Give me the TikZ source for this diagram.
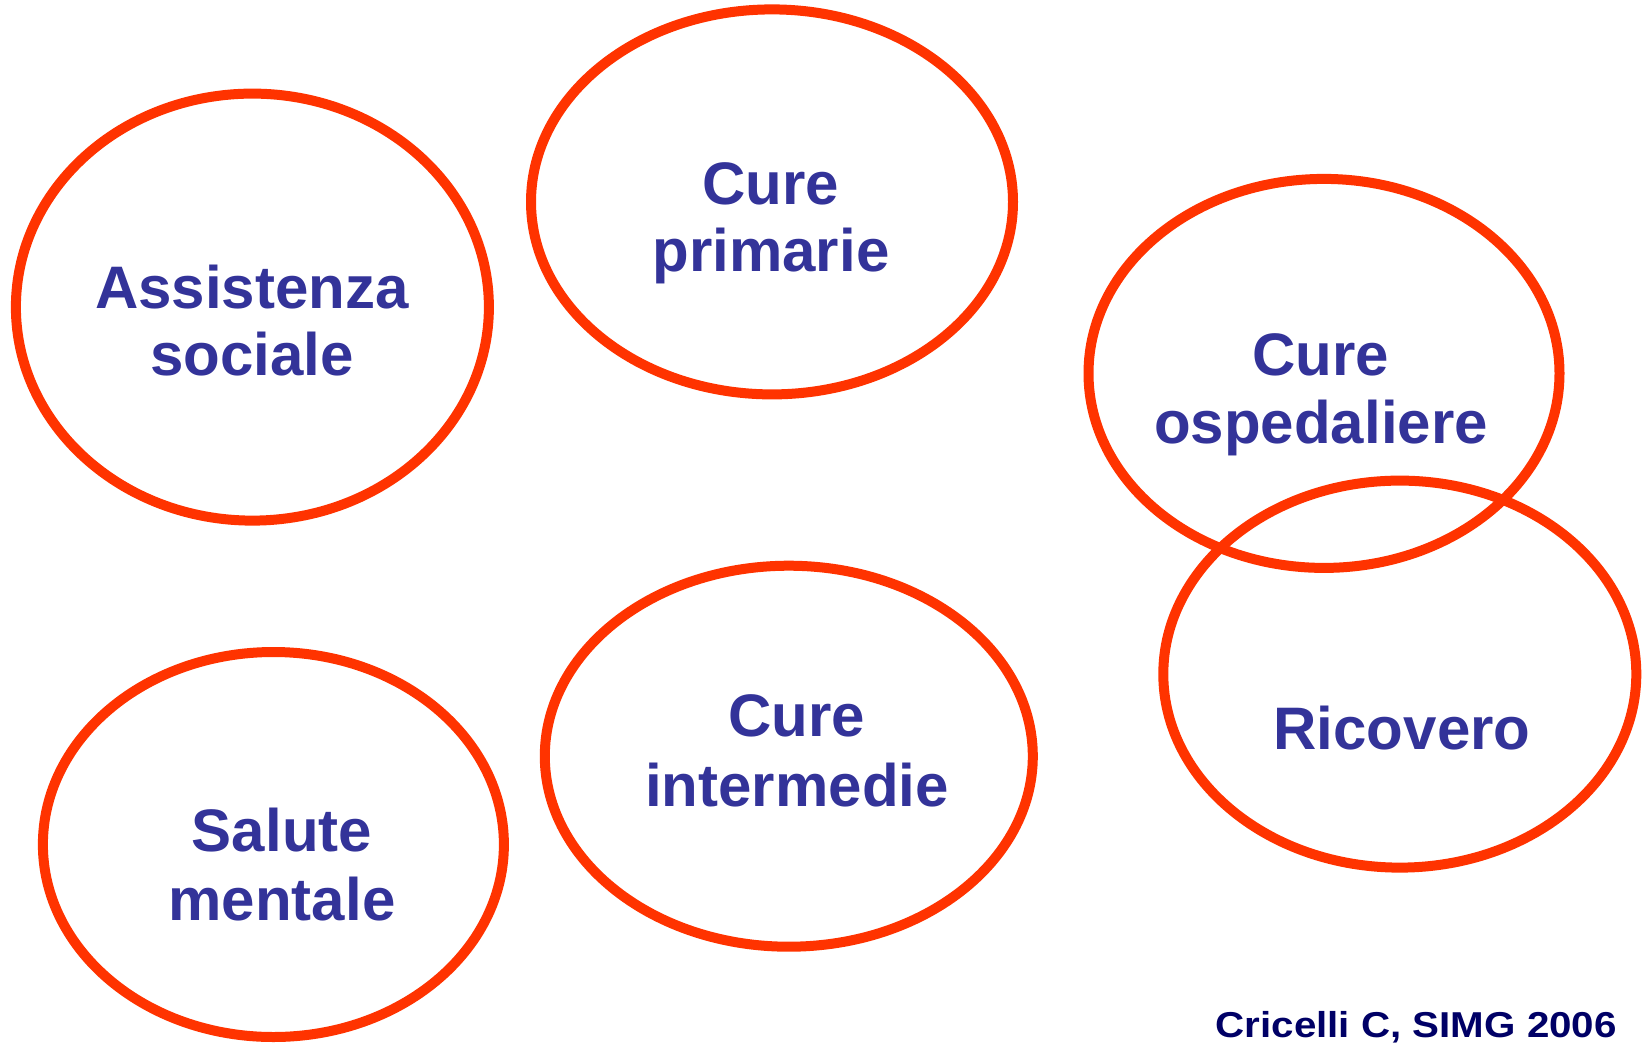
\documentclass[tikz,border=0pt]{standalone}
\usepackage{fontspec}
\setmainfont{Liberation Sans}
\usetikzlibrary{shapes.geometric}
\definecolor{ring}{HTML}{FF3300}
\definecolor{lbl}{HTML}{333399}
\definecolor{cite}{HTML}{000066}
\tikzset{
  oval/.style={draw=ring, line width=10pt, ellipse, inner sep=0pt, outer sep=0pt},
  word/.style={anchor=base, text=lbl, inner sep=0pt, font=\bfseries\fontsize{60}{68}\selectfont},
}
\begin{document}
\begin{tikzpicture}[x=1pt,y=-1pt]
\useasboundingbox[fill=white] (0,0) rectangle (1649,1042);
\node[oval, minimum width=473pt, minimum height=427pt] (e1) at (252.4,307.1) {};
\node[oval, minimum width=482pt, minimum height=385pt] (e2) at (772,201.9) {};
\node[oval, minimum width=471pt, minimum height=389pt] (e3) at (1324,373.4) {};
\node[oval, minimum width=473pt, minimum height=387pt] (e4) at (1399.8,674.1) {};
\node[oval, minimum width=488pt, minimum height=381pt] (e5) at (788.8,756.2) {};
\node[oval, minimum width=461pt, minimum height=385pt] (e6) at (273.4,844.5) {};
\node[word] (t1a) at (252,308) {Assistenza};
\node[word] (t1b) at (252,375) {sociale};
\node[word] (t2a) at (771,204) {Cure};
\node[word] (t2b) at (771,271) {primarie};
\node[word] (t3a) at (1321,375) {Cure};
\node[word] (t3b) at (1321,443) {ospedaliere};
\node[word] (t4a) at (1402,749) {Ricovero};
\node[word] (t5a) at (797,736) {Cure};
\node[word] (t5b) at (797,806) {intermedie};
\node[word] (t6a) at (282,851) {Salute};
\node[word] (t6b) at (282,920) {mentale};
\node[anchor=base east, inner sep=0pt, text=cite, font=\bfseries\fontsize{36}{40}\selectfont] (cit) at (1617,1037) {\scalebox{1.12}[1]{Cricelli C, SIMG 2006}};
\end{tikzpicture}
\end{document}
